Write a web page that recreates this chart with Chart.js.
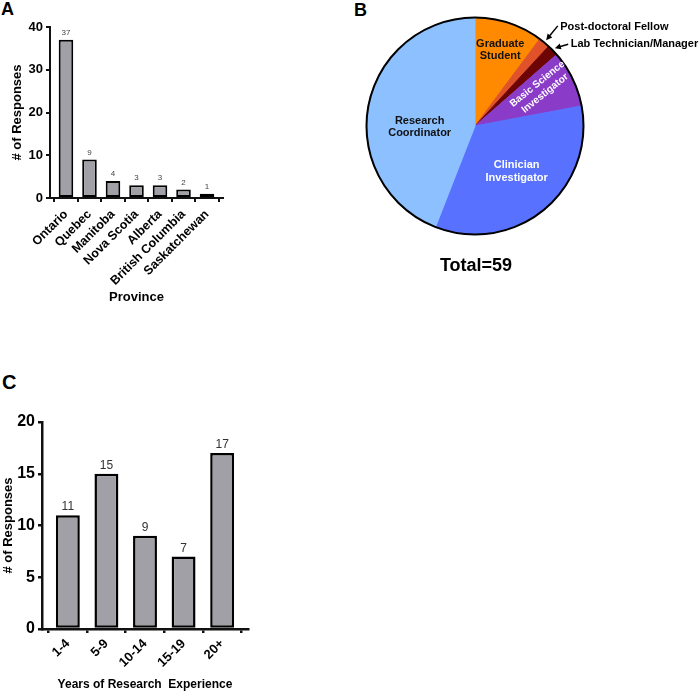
<!DOCTYPE html>
<html>
<head>
<meta charset="utf-8">
<script src="https://cdn.jsdelivr.net/npm/chart.js@4.4.0/dist/chart.umd.min.js"></script>
<style>
  body { margin: 0; background: #fff; font-family: 'Liberation Sans', Arial, sans-serif; }
  #page { position: relative; width: 700px; height: 692px; }
  .panel { position: absolute; }
  .letter { position: absolute; font-weight: bold; color: #000; line-height: 1; }
  #total { position: absolute; left: 376px; top: 256px; width: 200px; text-align: center;
           font-weight: bold; font-size: 18px; line-height: 1; color: #000; }
</style>
</head>
<body>
<div id="page">
  <div class="letter" style="left:1px;top:0;font-size:18px">A</div>
  <div class="letter" style="left:354px;top:1px;font-size:18px">B</div>
  <div class="letter" style="left:2px;top:372px;font-size:20px">C</div>

  <div class="panel" style="left:0;top:0;width:240px;height:320px"><canvas id="provinceChart"></canvas></div>
  <div class="panel" style="left:360px;top:0;width:340px;height:260px"><canvas id="roleChart"></canvas></div>
  <div id="total"></div>
  <div class="panel" style="left:0;top:400px;width:262px;height:292px"><canvas id="experienceChart"></canvas></div>
</div>

<script>
// Panel A - responses by province
const provinces = ['Ontario', 'Quebec', 'Manitoba', 'Nova Scotia', 'Alberta', 'British Columbia', 'Saskatchewan'];
const provinceCounts = [37, 9, 4, 3, 3, 2, 1];
const provinceTicks = [0, 10, 20, 30, 40];

// Panel B - respondent roles
const roles = ['Graduate Student', 'Post-doctoral Fellow', 'Lab Technician/Manager',
               'Basic Science Investigator', 'Clinician Investigator', 'Research Coordinator'];
const roleCounts = [6, 1, 1, 5, 20, 26];

// Panel C - years of research experience
const experienceBins = ['1-4', '5-9', '10-14', '15-19', '20+'];
const experienceCounts = [11, 15, 9, 7, 17];
const experienceTicks = [0, 5, 10, 15, 20];

const FONT = "'Liberation Sans', Arial, sans-serif";
Chart.defaults.font.family = FONT;
Chart.defaults.color = '#000';

const AXIS = '#111';
const BAR_FILL = '#a0a0a6';
const roleColors = ['#ff8a00', '#e0522a', '#6e0505', '#8a3cc8', '#5872ff', '#8cc0ff'];

// Value printed above each bar
const barValueLabels = {
    id: 'barValueLabels',
    afterDatasetsDraw(chart, args, opts) {
        const ctx = chart.ctx;
        const meta = chart.getDatasetMeta(0);
        const data = chart.data.datasets[0].data;
        ctx.save();
        ctx.font = opts.font;
        ctx.fillStyle = opts.color;
        ctx.textAlign = 'center';
        ctx.textBaseline = 'bottom';
        meta.data.forEach((bar, i) => {
            ctx.fillText(String(data[i].y), bar.x, bar.y - opts.gap);
        });
        ctx.restore();
    }
};

function barChart(canvasId, cats, counts, cfg) {
    return new Chart(document.getElementById(canvasId), {
        type: 'bar',
        data: {
            datasets: [{
                data: counts.map((v, i) => ({ x: i, y: v })),
                backgroundColor: BAR_FILL,
                borderColor: '#000',
                borderWidth: cfg.barBorder,
                borderSkipped: false,
                barPercentage: 0.62,
                categoryPercentage: 1
            }]
        },
        options: {
            animation: false,
            responsive: true,
            maintainAspectRatio: false,
            layout: { padding: cfg.padding },
            scales: {
                x: {
                    type: 'linear',
                    min: -cfg.gap,
                    max: cats.length - 1 + cfg.gap,
                    offset: false,
                    afterBuildTicks: s => { s.ticks = cats.map((c, i) => ({ value: i })); },
                    ticks: {
                        autoSkip: false,
                        minRotation: 45,
                        maxRotation: 45,
                        padding: cfg.xTickPad,
                        color: '#000',
                        font: { size: cfg.xTickSize, weight: 'bold' },
                        callback: v => cats[v]
                    },
                    grid: { drawOnChartArea: false, tickLength: 4, color: AXIS, lineWidth: cfg.axisWidth },
                    border: { color: AXIS, width: cfg.axisWidth },
                    title: {
                        display: true,
                        text: cfg.xTitle,
                        color: '#000',
                        font: { size: cfg.xTitleSize, weight: 'bold' },
                        padding: { top: 0, bottom: cfg.xTitlePad }
                    },
                    afterFit: s => { s.height = cfg.xHeight; }
                },
                y: {
                    min: 0,
                    max: cfg.yTicks[cfg.yTicks.length - 1],
                    afterBuildTicks: s => { s.ticks = cfg.yTicks.map(v => ({ value: v })); },
                    ticks: {
                        padding: 3,
                        color: '#000',
                        font: { size: cfg.yTickSize, weight: 'bold' }
                    },
                    grid: { drawOnChartArea: false, tickLength: 4, color: AXIS, lineWidth: cfg.axisWidth },
                    border: { color: AXIS, width: cfg.axisWidth },
                    title: {
                        display: true,
                        text: '# of Responses',
                        color: '#000',
                        font: { size: 13, weight: 'bold' },
                        padding: { top: cfg.yTitlePad, bottom: 0 }
                    },
                    afterFit: s => { s.width = cfg.yWidth; }
                }
            },
            plugins: {
                legend: { display: false },
                tooltip: { enabled: false },
                barValueLabels: cfg.valueLabels
            }
        },
        plugins: [barValueLabels]
    });
}

barChart('provinceChart', provinces, provinceCounts, {
    padding: { left: 0, top: 27, right: 17, bottom: 0 },
    gap: 0.68,
    barBorder: 2,
    axisWidth: 2,
    xTickSize: 12.5,
    xTickPad: 5,
    yTickSize: 13,
    yTicks: provinceTicks,
    xTitle: 'Province',
    xTitleSize: 13,
    xTitlePad: 15,
    xHeight: 122,
    yWidth: 50,
    yTitlePad: 10,
    valueLabels: { font: '8px ' + FONT, color: '#444', gap: 3 }
});

barChart('experienceChart', experienceBins, experienceCounts, {
    padding: { left: 0, top: 22, right: 14, bottom: 0 },
    gap: 0.67,
    barBorder: 2.5,
    axisWidth: 2.5,
    xTickSize: 13,
    xTickPad: 3,
    yTickSize: 16,
    yTicks: experienceTicks,
    xTitle: 'Years of Research  Experience',
    xTitleSize: 12,
    xTitlePad: 0,
    xHeight: 63,
    yWidth: 42,
    yTitlePad: 1,
    valueLabels: { font: '12px ' + FONT, color: '#333', gap: 2 }
});

// Label placement for the pie slices (same order as roles)
const roleLabelStyle = [
    { inside: true, frac: 0.74, shift: 0, color: '#111', size: 11, lineGap: 12 },
    { inside: false, tail: [11.6, -14.3], text: [2.5, 1] },
    { inside: false, tail: [13.3, -4], text: [2.5, -0.2] },
    { inside: true, frac: 0.70, shift: -3.5, color: '#fff', size: 10, lineGap: 12, rotate: -39 },
    { inside: true, frac: 0.57, shift: -2.7, color: '#fff', size: 11, lineGap: 13 },
    { inside: true, frac: 0.51, shift: -11.7, color: '#111', size: 11, lineGap: 12 }
];

function splitLabel(name) {
    const k = name.lastIndexOf(' ');
    return k < 0 ? [name] : [name.slice(0, k), name.slice(k + 1)];
}

const pieLabels = {
    id: 'pieLabels',
    afterDatasetsDraw(chart) {
        const ctx = chart.ctx;
        const arcs = chart.getDatasetMeta(0).data;
        const cx = arcs[0].x, cy = arcs[0].y, r = arcs[0].outerRadius;
        ctx.save();
        // outline of the whole pie
        ctx.beginPath();
        ctx.arc(cx, cy, r, 0, Math.PI * 2);
        ctx.lineWidth = 2;
        ctx.strokeStyle = '#000';
        ctx.stroke();

        arcs.forEach((arc, i) => {
            const st = roleLabelStyle[i];
            const name = chart.data.labels[i];
            const mid = (arc.startAngle + arc.endAngle) / 2;
            if (st.inside) {
                const a = mid + st.shift * Math.PI / 180;
                const px = cx + Math.cos(a) * r * st.frac;
                const py = cy + Math.sin(a) * r * st.frac;
                const lines = splitLabel(name);
                ctx.save();
                ctx.translate(px, py);
                if (st.rotate) ctx.rotate(st.rotate * Math.PI / 180);
                ctx.font = 'bold ' + st.size + 'px ' + FONT;
                ctx.fillStyle = st.color;
                ctx.textAlign = 'center';
                ctx.textBaseline = 'middle';
                lines.forEach((ln, j) => {
                    ctx.fillText(ln, 0, (j - (lines.length - 1) / 2) * st.lineGap);
                });
                ctx.restore();
            } else {
                const tipX = cx + Math.cos(mid) * (r + 3);
                const tipY = cy + Math.sin(mid) * (r + 3);
                const tailX = tipX + st.tail[0];
                const tailY = tipY + st.tail[1];
                const ang = Math.atan2(tipY - tailY, tipX - tailX);
                ctx.strokeStyle = '#000';
                ctx.fillStyle = '#000';
                ctx.lineWidth = 1.5;
                ctx.beginPath();
                ctx.moveTo(tailX, tailY);
                ctx.lineTo(tipX - Math.cos(ang) * 4, tipY - Math.sin(ang) * 4);
                ctx.stroke();
                ctx.beginPath();
                ctx.moveTo(tipX, tipY);
                ctx.lineTo(tipX - Math.cos(ang) * 6 - Math.sin(ang) * 3, tipY - Math.sin(ang) * 6 + Math.cos(ang) * 3);
                ctx.lineTo(tipX - Math.cos(ang) * 6 + Math.sin(ang) * 3, tipY - Math.sin(ang) * 6 - Math.cos(ang) * 3);
                ctx.closePath();
                ctx.fill();
                ctx.font = 'bold 11px ' + FONT;
                ctx.textAlign = 'left';
                ctx.textBaseline = 'middle';
                ctx.fillText(name, tailX + st.text[0], tailY + st.text[1]);
            }
        });
        ctx.restore();
    }
};

new Chart(document.getElementById('roleChart'), {
    type: 'pie',
    data: {
        labels: roles,
        datasets: [{
            data: roleCounts,
            backgroundColor: roleColors,
            borderColor: roleColors,
            borderWidth: 1,
            hoverOffset: 0
        }]
    },
    options: {
        animation: false,
        responsive: true,
        maintainAspectRatio: false,
        layout: { padding: { left: 6, top: 17, right: 116, bottom: 25 } },
        plugins: {
            legend: { display: false },
            tooltip: { enabled: false }
        }
    },
    plugins: [pieLabels]
});

document.getElementById('total').textContent = 'Total=' + roleCounts.reduce((a, b) => a + b, 0);
</script>
</body>
</html>
